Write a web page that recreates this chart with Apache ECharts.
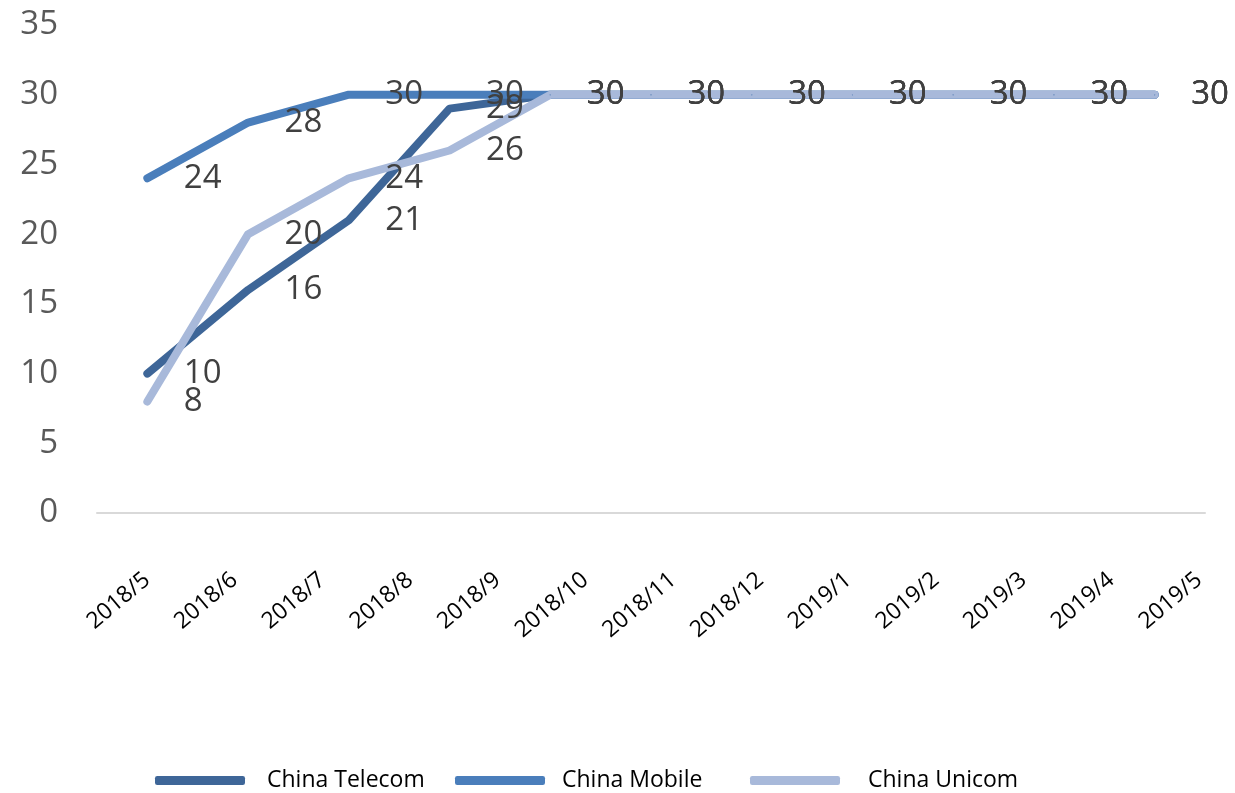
<!DOCTYPE html>
<html>
<head>
<meta charset="utf-8">
<script src="https://cdn.jsdelivr.net/npm/echarts@6/dist/echarts.min.js"></script>
<style>
  html, body { margin: 0; padding: 0; background: #fff; }
  #chart { width: 1235px; height: 793px; }
</style>
</head>
<body>
<div id="chart"></div>
<script>
// Tick labels shown along the category axis
var categories = ['2018/5','2018/6','2018/7','2018/8','2018/9','2018/10','2018/11','2018/12','2019/1','2019/2','2019/3','2019/4','2019/5'];
// The plotted lines carry 11 points each (as in the reference picture)
var pointSlots = categories.slice(0, 11);
var telecom = [10, 16, 21, 29, 30, 30, 30, 30, 30, 30, 30];
var mobile  = [24, 28, 30, 30, 30, 30, 30, 30, 30, 30, 30];
var unicom  = [8, 20, 24, 26, 30, 30, 30, 30, 30, 30, 30];
var seriesNames = ['China Telecom', 'China Mobile', 'China Unicom'];
var seriesColors = ['#3e6698', '#4a7ebb', '#a8b9da'];
var yTicks = { min: 0, max: 35, interval: 5 };

var FONT = '"Open Sans", "DejaVu Sans", sans-serif';
var chart = echarts.init(document.getElementById('chart'), null, { renderer: 'canvas' });

function lineSeries(name, data, color) {
  return {
    name: name,
    type: 'line',
    xAxisIndex: 0,
    yAxisIndex: 0,
    data: data,
    color: color,
    symbol: 'circle',
    symbolSize: 1,
    showAllSymbol: true,
    itemStyle: { color: color },
    lineStyle: { width: 8, color: color, cap: 'round', join: 'round' },
    label: {
      show: true,
      position: 'right',
      distance: 36,
      fontFamily: FONT,
      fontSize: 33,
      color: '#404040'
    },
    emphasis: { disabled: true },
    animation: false
  };
}

function legendFor(name, left, textGap) {
  return {
    data: [name],
    left: left,
    top: 769,
    padding: 0,
    icon: 'roundRect',
    itemWidth: 90,
    itemHeight: 9,
    selectedMode: false,
    textStyle: { fontFamily: FONT, fontSize: 23, color: '#000', padding: [0, 0, 0, textGap] }
  };
}

var option = {
  backgroundColor: '#fff',
  animation: false,
  grid: [
    { left: 97, right: 30, top: 25, bottom: 280 },
    { left: 147, right: 36, top: 25, bottom: 280 }
  ],
  legend: [
    legendFor(seriesNames[0], 155, 17),
    legendFor(seriesNames[1], 455, 12),
    legendFor(seriesNames[2], 750, 23)
  ],
  xAxis: [
    {
      type: 'category',
      gridIndex: 0,
      data: pointSlots,
      boundaryGap: true,
      axisLine: { show: true, lineStyle: { color: '#d9d9d9', width: 2 } },
      axisTick: { show: false },
      axisLabel: { show: false },
      splitLine: { show: false }
    },
    {
      type: 'category',
      gridIndex: 1,
      data: categories,
      boundaryGap: false,
      axisLine: { show: false },
      axisTick: { show: false },
      splitLine: { show: false },
      axisLabel: {
        show: true,
        interval: 0,
        rotate: 40,
        margin: 64,
        fontFamily: FONT,
        fontSize: 23,
        color: '#000'
      }
    }
  ],
  yAxis: [
    {
      type: 'value',
      gridIndex: 0,
      min: yTicks.min,
      max: yTicks.max,
      interval: yTicks.interval,
      axisLine: { show: false },
      axisTick: { show: false },
      splitLine: { show: false },
      axisLabel: { margin: 39, fontFamily: FONT, fontSize: 33, color: '#595959' }
    },
    {
      type: 'value',
      gridIndex: 1,
      min: yTicks.min,
      max: yTicks.max,
      interval: yTicks.interval,
      show: false
    }
  ],
  series: [
    lineSeries(seriesNames[0], telecom, seriesColors[0]),
    lineSeries(seriesNames[1], mobile, seriesColors[1]),
    lineSeries(seriesNames[2], unicom, seriesColors[2])
  ]
};

chart.setOption(option);
</script>
</body>
</html>
